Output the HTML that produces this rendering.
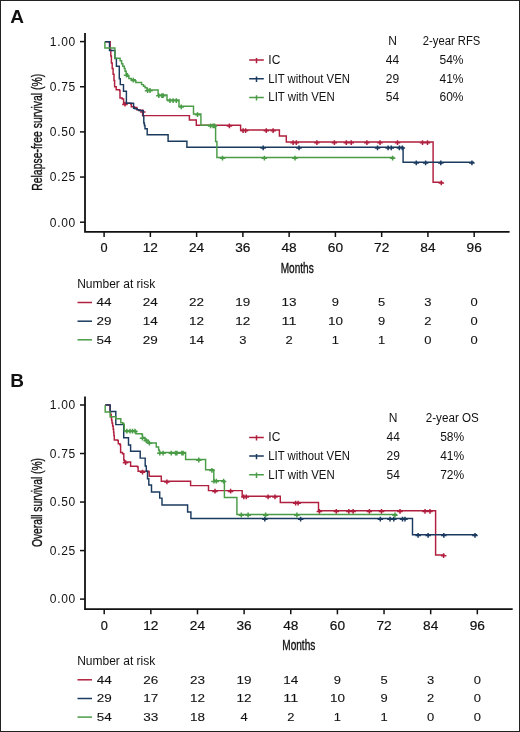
<!DOCTYPE html>
<html><head><meta charset="utf-8"><style>
html,body{margin:0;padding:0;background:#fff;}
body{width:520px;height:732px;overflow:hidden;position:relative;}
.frame{position:absolute;left:0;top:0;width:518px;height:730px;border:1px solid #222;}
svg{position:absolute;left:0;top:0;will-change:transform;}
</style></head><body><div class="frame"></div>
<svg width="520" height="732" viewBox="0 0 520 732" fill="#111">
<text x="10.3" y="23.2" font-size="19" font-weight="bold" font-family="Liberation Sans, sans-serif">A</text>
<path d="M85,33.0 V231.8 H509.6" fill="none" stroke="#111" stroke-width="1.8"/>
<path d="M80,222.20 H85" stroke="#111" stroke-width="1.5"/>
<text x="75.2" y="226.50" font-size="12" text-anchor="end" textLength="25.4" font-family="Liberation Sans, sans-serif">0.00</text>
<path d="M80,177.05 H85" stroke="#111" stroke-width="1.5"/>
<text x="75.2" y="181.35" font-size="12" text-anchor="end" textLength="25.4" font-family="Liberation Sans, sans-serif">0.25</text>
<path d="M80,131.90 H85" stroke="#111" stroke-width="1.5"/>
<text x="75.2" y="136.20" font-size="12" text-anchor="end" textLength="25.4" font-family="Liberation Sans, sans-serif">0.50</text>
<path d="M80,86.75 H85" stroke="#111" stroke-width="1.5"/>
<text x="75.2" y="91.05" font-size="12" text-anchor="end" textLength="25.4" font-family="Liberation Sans, sans-serif">0.75</text>
<path d="M80,41.60 H85" stroke="#111" stroke-width="1.5"/>
<text x="75.2" y="45.90" font-size="12" text-anchor="end" textLength="25.4" font-family="Liberation Sans, sans-serif">1.00</text>
<path d="M104.10,231.8 V237.0" stroke="#111" stroke-width="1.5"/>
<text x="104.10" y="251.90" font-size="12" text-anchor="middle" textLength="7.1" lengthAdjust="spacingAndGlyphs" stroke="#111" stroke-width="0.2" font-family="Liberation Sans, sans-serif">0</text>
<path d="M150.36,231.8 V237.0" stroke="#111" stroke-width="1.5"/>
<text x="150.36" y="251.90" font-size="12" text-anchor="middle" textLength="15.2" lengthAdjust="spacingAndGlyphs" stroke="#111" stroke-width="0.2" font-family="Liberation Sans, sans-serif">12</text>
<path d="M196.62,231.8 V237.0" stroke="#111" stroke-width="1.5"/>
<text x="196.62" y="251.90" font-size="12" text-anchor="middle" textLength="15.2" lengthAdjust="spacingAndGlyphs" stroke="#111" stroke-width="0.2" font-family="Liberation Sans, sans-serif">24</text>
<path d="M242.88,231.8 V237.0" stroke="#111" stroke-width="1.5"/>
<text x="242.88" y="251.90" font-size="12" text-anchor="middle" textLength="15.2" lengthAdjust="spacingAndGlyphs" stroke="#111" stroke-width="0.2" font-family="Liberation Sans, sans-serif">36</text>
<path d="M289.14,231.8 V237.0" stroke="#111" stroke-width="1.5"/>
<text x="289.14" y="251.90" font-size="12" text-anchor="middle" textLength="15.2" lengthAdjust="spacingAndGlyphs" stroke="#111" stroke-width="0.2" font-family="Liberation Sans, sans-serif">48</text>
<path d="M335.40,231.8 V237.0" stroke="#111" stroke-width="1.5"/>
<text x="335.40" y="251.90" font-size="12" text-anchor="middle" textLength="15.2" lengthAdjust="spacingAndGlyphs" stroke="#111" stroke-width="0.2" font-family="Liberation Sans, sans-serif">60</text>
<path d="M381.66,231.8 V237.0" stroke="#111" stroke-width="1.5"/>
<text x="381.66" y="251.90" font-size="12" text-anchor="middle" textLength="15.2" lengthAdjust="spacingAndGlyphs" stroke="#111" stroke-width="0.2" font-family="Liberation Sans, sans-serif">72</text>
<path d="M427.92,231.8 V237.0" stroke="#111" stroke-width="1.5"/>
<text x="427.92" y="251.90" font-size="12" text-anchor="middle" textLength="15.2" lengthAdjust="spacingAndGlyphs" stroke="#111" stroke-width="0.2" font-family="Liberation Sans, sans-serif">84</text>
<path d="M474.18,231.8 V237.0" stroke="#111" stroke-width="1.5"/>
<text x="474.18" y="251.90" font-size="12" text-anchor="middle" textLength="15.2" lengthAdjust="spacingAndGlyphs" stroke="#111" stroke-width="0.2" font-family="Liberation Sans, sans-serif">96</text>
<text transform="translate(297.20,272.8) scale(0.72,1)" font-size="14" text-anchor="middle" stroke="#111" stroke-width="0.35" font-family="Liberation Sans, sans-serif">Months</text>
<text transform="translate(41.6,132.3) rotate(-90) scale(0.745,1)" font-size="14" text-anchor="middle" stroke="#111" stroke-width="0.35" font-family="Liberation Sans, sans-serif">Relapse-free survival (%)</text>
<path d="M104.9,41.8 H109.8 V41.8 H110.2 V49.9 H110.8 V56 H111.4 V63 H112.2 V68.5 H113.1 V74.3 H114 V80.5 H114.6 V86.8 H116.2 V89.8 H119.6 V90.8 H120 V98 H122.2 V99 H123.6 V103.2 H130.8 V104 H131.3 V106.8 H134.4 V107.4 H136.9 V109.7 H140 V110.5 H142.6 V111.3 H142.6 V115.6 H189.4 V120 H196.3 V125.3 H240.6 V130 H279.4 V136 H286.3 V142 H433.1 V182.3 H442.7 V182.3" fill="none" stroke="#b01f3e" stroke-width="1.45" stroke-linejoin="miter"/>
<path d="M122.2,104.4h5.5M125.0,101.8v4.8M140.1,112.1h5.5M142.8,109.5v4.8M226.7,126.1h5.5M229.4,123.5v4.8M240.3,130.8h5.5M243.1,128.2v4.8M242.8,130.8h5.5M245.6,128.2v4.8M263.6,130.8h5.5M266.3,128.2v4.8M270.4,130.8h5.5M273.1,128.2v4.8M290.4,142.8h5.5M293.1,140.2v4.8M293.6,142.8h5.5M296.3,140.2v4.8M314.1,142.8h5.5M316.9,140.2v4.8M331.6,142.8h5.5M334.4,140.2v4.8M343.6,142.8h5.5M346.3,140.2v4.8M348.6,142.8h5.5M351.3,140.2v4.8M364.1,142.8h5.5M366.9,140.2v4.8M377.2,142.8h5.5M380.0,140.2v4.8M394.8,142.8h5.5M397.5,140.2v4.8M419.8,142.8h5.5M422.5,140.2v4.8M424.8,142.8h5.5M427.5,140.2v4.8M438.6,183.1h5.5M441.3,180.5v4.8" fill="none" stroke="#b01f3e" stroke-width="1.5"/>
<path d="M104.9,41.8 H109.5 V50.4 H114.9 V58.5 H116.4 V66.2 H119.3 V78.8 H120.3 V84.6 H123.5 V91.2 H126.4 V103.3 H133.1 V103.5 H133.6 V108.3 H135 V108.8 H137.2 V109.6 H138.8 V110.4 H141.8 V110.8 H143.2 V116.1 H143.8 V123 H144.4 V125.5 H145 V128.8 H147.2 V134.8 H168.1 V141.3 H186.9 V147.3 H403.1 V162.3 H474 V162.3" fill="none" stroke="#1b3a5f" stroke-width="1.45" stroke-linejoin="miter"/>
<path d="M260.4,148.1h5.5M263.2,145.5v4.8M296.2,148.1h5.5M299.0,145.5v4.8M374.8,148.1h5.5M377.5,145.5v4.8M385.4,148.1h5.5M388.1,145.5v4.8M388.6,148.1h5.5M391.3,145.5v4.8M396.6,148.1h5.5M399.4,145.5v4.8M399.6,148.1h5.5M402.3,145.5v4.8M413.6,163.1h5.5M416.3,160.5v4.8M422.9,163.1h5.5M425.6,160.5v4.8M438.1,163.1h5.5M440.8,160.5v4.8M469.1,163.1h5.5M471.9,160.5v4.8" fill="none" stroke="#1b3a5f" stroke-width="1.5"/>
<path d="M104.9,41.8 H104.9 V47.9 H114.9 V58.2 H120.1 V60.8 H121.6 V63.8 H122.8 V66.2 H124.3 V68.5 H125.1 V71.2 H126.2 V73.8 H127.4 V76.2 H128.9 V78.5 H131.2 V79.6 H135.1 V80.8 H135.8 V82.5 H141.6 V84.6 H143.5 V86.2 H145.1 V87.7 H147 V89.9 H158.1 V95 H167 V100 H179 V106.3 H193.5 V114 H200.9 V125.2 H215.6 V141.5 H216.9 V157.5 H394.5 V157.5" fill="none" stroke="#4a9c47" stroke-width="1.45" stroke-linejoin="miter"/>
<path d="M123.8,75.3h5.5M126.5,72.7v4.8M130.6,80.4h5.5M133.3,77.8v4.8M144.8,90.7h5.5M147.6,88.1v4.8M147.2,90.7h5.5M150.0,88.1v4.8M156.1,95.8h5.5M158.8,93.2v4.8M159.2,95.8h5.5M161.9,93.2v4.8M160.3,95.8h5.5M163.1,93.2v4.8M167.2,100.8h5.5M170.0,98.2v4.8M170.3,100.8h5.5M173.1,98.2v4.8M173.6,100.8h5.5M176.3,98.2v4.8M178.6,107.1h5.5M181.3,104.5v4.8M194.8,114.8h5.5M197.5,112.2v4.8M207.8,126.0h5.5M210.6,123.4v4.8M210.3,126.0h5.5M213.1,123.4v4.8M211.7,126.0h5.5M214.4,123.4v4.8M219.8,158.3h5.5M222.5,155.7v4.8M261.6,158.3h5.5M264.4,155.7v4.8M292.2,158.3h5.5M295.0,155.7v4.8M389.9,158.3h5.5M392.6,155.7v4.8" fill="none" stroke="#4a9c47" stroke-width="1.5"/>

<text x="392.5" y="44.6" font-size="12" text-anchor="middle" font-family="Liberation Sans, sans-serif">N</text>
<text x="451.6" y="44.6" font-size="12" text-anchor="middle" textLength="57.5" lengthAdjust="spacingAndGlyphs" font-family="Liberation Sans, sans-serif">2-year RFS</text>
<path d="M249.2,60.1 H263.8 M256.5,57.9 v5.4" fill="none" stroke="#b01f3e" stroke-width="1.5"/>
<text x="268.3" y="64.1" font-size="12" font-family="Liberation Sans, sans-serif">IC</text>
<text x="392.5" y="64.1" font-size="12" text-anchor="middle" font-family="Liberation Sans, sans-serif">44</text>
<text x="451.5" y="64.1" font-size="12" text-anchor="middle" font-family="Liberation Sans, sans-serif">54%</text>
<path d="M249.2,78.8 H263.8 M256.5,76.6 v5.4" fill="none" stroke="#1b3a5f" stroke-width="1.5"/>
<text x="268.3" y="82.8" font-size="12" textLength="81.6" lengthAdjust="spacingAndGlyphs" font-family="Liberation Sans, sans-serif">LIT without VEN</text>
<text x="392.5" y="82.8" font-size="12" text-anchor="middle" font-family="Liberation Sans, sans-serif">29</text>
<text x="451.5" y="82.8" font-size="12" text-anchor="middle" font-family="Liberation Sans, sans-serif">41%</text>
<path d="M249.2,97.4 H263.8 M256.5,95.2 v5.4" fill="none" stroke="#4a9c47" stroke-width="1.5"/>
<text x="268.3" y="101.4" font-size="12" textLength="66.4" lengthAdjust="spacingAndGlyphs" font-family="Liberation Sans, sans-serif">LIT with VEN</text>
<text x="392.5" y="101.4" font-size="12" text-anchor="middle" font-family="Liberation Sans, sans-serif">54</text>
<text x="451.5" y="101.4" font-size="12" text-anchor="middle" font-family="Liberation Sans, sans-serif">60%</text>
<text x="77.2" y="287.8" font-size="12" font-family="Liberation Sans, sans-serif">Number at risk</text>
<path d="M77.5,302.5 H92" stroke="#b01f3e" stroke-width="1.5"/>
<text x="104.10" y="306.4" font-size="11.5" text-anchor="middle" textLength="15.0" lengthAdjust="spacingAndGlyphs" stroke="#111" stroke-width="0.1" font-family="Liberation Sans, sans-serif">44</text>
<text x="150.36" y="306.4" font-size="11.5" text-anchor="middle" textLength="15.0" lengthAdjust="spacingAndGlyphs" stroke="#111" stroke-width="0.1" font-family="Liberation Sans, sans-serif">24</text>
<text x="196.62" y="306.4" font-size="11.5" text-anchor="middle" textLength="15.0" lengthAdjust="spacingAndGlyphs" stroke="#111" stroke-width="0.1" font-family="Liberation Sans, sans-serif">22</text>
<text x="242.88" y="306.4" font-size="11.5" text-anchor="middle" textLength="15.0" lengthAdjust="spacingAndGlyphs" stroke="#111" stroke-width="0.1" font-family="Liberation Sans, sans-serif">19</text>
<text x="289.14" y="306.4" font-size="11.5" text-anchor="middle" textLength="15.0" lengthAdjust="spacingAndGlyphs" stroke="#111" stroke-width="0.1" font-family="Liberation Sans, sans-serif">13</text>
<text x="335.40" y="306.4" font-size="11.5" text-anchor="middle" textLength="7.2" lengthAdjust="spacingAndGlyphs" stroke="#111" stroke-width="0.1" font-family="Liberation Sans, sans-serif">9</text>
<text x="381.66" y="306.4" font-size="11.5" text-anchor="middle" textLength="7.2" lengthAdjust="spacingAndGlyphs" stroke="#111" stroke-width="0.1" font-family="Liberation Sans, sans-serif">5</text>
<text x="427.92" y="306.4" font-size="11.5" text-anchor="middle" textLength="7.2" lengthAdjust="spacingAndGlyphs" stroke="#111" stroke-width="0.1" font-family="Liberation Sans, sans-serif">3</text>
<text x="474.18" y="306.4" font-size="11.5" text-anchor="middle" textLength="7.2" lengthAdjust="spacingAndGlyphs" stroke="#111" stroke-width="0.1" font-family="Liberation Sans, sans-serif">0</text>
<path d="M77.5,321.2 H92" stroke="#1b3a5f" stroke-width="1.5"/>
<text x="104.10" y="325.1" font-size="11.5" text-anchor="middle" textLength="15.0" lengthAdjust="spacingAndGlyphs" stroke="#111" stroke-width="0.1" font-family="Liberation Sans, sans-serif">29</text>
<text x="150.36" y="325.1" font-size="11.5" text-anchor="middle" textLength="15.0" lengthAdjust="spacingAndGlyphs" stroke="#111" stroke-width="0.1" font-family="Liberation Sans, sans-serif">14</text>
<text x="196.62" y="325.1" font-size="11.5" text-anchor="middle" textLength="15.0" lengthAdjust="spacingAndGlyphs" stroke="#111" stroke-width="0.1" font-family="Liberation Sans, sans-serif">12</text>
<text x="242.88" y="325.1" font-size="11.5" text-anchor="middle" textLength="15.0" lengthAdjust="spacingAndGlyphs" stroke="#111" stroke-width="0.1" font-family="Liberation Sans, sans-serif">12</text>
<text x="289.14" y="325.1" font-size="11.5" text-anchor="middle" textLength="15.0" lengthAdjust="spacingAndGlyphs" stroke="#111" stroke-width="0.1" font-family="Liberation Sans, sans-serif">11</text>
<text x="335.40" y="325.1" font-size="11.5" text-anchor="middle" textLength="15.0" lengthAdjust="spacingAndGlyphs" stroke="#111" stroke-width="0.1" font-family="Liberation Sans, sans-serif">10</text>
<text x="381.66" y="325.1" font-size="11.5" text-anchor="middle" textLength="7.2" lengthAdjust="spacingAndGlyphs" stroke="#111" stroke-width="0.1" font-family="Liberation Sans, sans-serif">9</text>
<text x="427.92" y="325.1" font-size="11.5" text-anchor="middle" textLength="7.2" lengthAdjust="spacingAndGlyphs" stroke="#111" stroke-width="0.1" font-family="Liberation Sans, sans-serif">2</text>
<text x="474.18" y="325.1" font-size="11.5" text-anchor="middle" textLength="7.2" lengthAdjust="spacingAndGlyphs" stroke="#111" stroke-width="0.1" font-family="Liberation Sans, sans-serif">0</text>
<path d="M77.5,339.8 H92" stroke="#4a9c47" stroke-width="1.5"/>
<text x="104.10" y="343.7" font-size="11.5" text-anchor="middle" textLength="15.0" lengthAdjust="spacingAndGlyphs" stroke="#111" stroke-width="0.1" font-family="Liberation Sans, sans-serif">54</text>
<text x="150.36" y="343.7" font-size="11.5" text-anchor="middle" textLength="15.0" lengthAdjust="spacingAndGlyphs" stroke="#111" stroke-width="0.1" font-family="Liberation Sans, sans-serif">29</text>
<text x="196.62" y="343.7" font-size="11.5" text-anchor="middle" textLength="15.0" lengthAdjust="spacingAndGlyphs" stroke="#111" stroke-width="0.1" font-family="Liberation Sans, sans-serif">14</text>
<text x="242.88" y="343.7" font-size="11.5" text-anchor="middle" textLength="7.2" lengthAdjust="spacingAndGlyphs" stroke="#111" stroke-width="0.1" font-family="Liberation Sans, sans-serif">3</text>
<text x="289.14" y="343.7" font-size="11.5" text-anchor="middle" textLength="7.2" lengthAdjust="spacingAndGlyphs" stroke="#111" stroke-width="0.1" font-family="Liberation Sans, sans-serif">2</text>
<text x="335.40" y="343.7" font-size="11.5" text-anchor="middle" textLength="7.2" lengthAdjust="spacingAndGlyphs" stroke="#111" stroke-width="0.1" font-family="Liberation Sans, sans-serif">1</text>
<text x="381.66" y="343.7" font-size="11.5" text-anchor="middle" textLength="7.2" lengthAdjust="spacingAndGlyphs" stroke="#111" stroke-width="0.1" font-family="Liberation Sans, sans-serif">1</text>
<text x="427.92" y="343.7" font-size="11.5" text-anchor="middle" textLength="7.2" lengthAdjust="spacingAndGlyphs" stroke="#111" stroke-width="0.1" font-family="Liberation Sans, sans-serif">0</text>
<text x="474.18" y="343.7" font-size="11.5" text-anchor="middle" textLength="7.2" lengthAdjust="spacingAndGlyphs" stroke="#111" stroke-width="0.1" font-family="Liberation Sans, sans-serif">0</text>
<text x="10.3" y="386.7" font-size="19" font-weight="bold" font-family="Liberation Sans, sans-serif">B</text>
<path d="M85,396.5 V609.1 H512.7" fill="none" stroke="#111" stroke-width="1.8"/>
<path d="M80,599.10 H85" stroke="#111" stroke-width="1.5"/>
<text x="75.2" y="603.40" font-size="12" text-anchor="end" textLength="25.4" font-family="Liberation Sans, sans-serif">0.00</text>
<path d="M80,550.58 H85" stroke="#111" stroke-width="1.5"/>
<text x="75.2" y="554.88" font-size="12" text-anchor="end" textLength="25.4" font-family="Liberation Sans, sans-serif">0.25</text>
<path d="M80,502.05 H85" stroke="#111" stroke-width="1.5"/>
<text x="75.2" y="506.35" font-size="12" text-anchor="end" textLength="25.4" font-family="Liberation Sans, sans-serif">0.50</text>
<path d="M80,453.52 H85" stroke="#111" stroke-width="1.5"/>
<text x="75.2" y="457.82" font-size="12" text-anchor="end" textLength="25.4" font-family="Liberation Sans, sans-serif">0.75</text>
<path d="M80,405.00 H85" stroke="#111" stroke-width="1.5"/>
<text x="75.2" y="409.30" font-size="12" text-anchor="end" textLength="25.4" font-family="Liberation Sans, sans-serif">1.00</text>
<path d="M104.20,609.1 V614.3000000000001" stroke="#111" stroke-width="1.5"/>
<text x="104.20" y="630.10" font-size="12" text-anchor="middle" textLength="7.1" lengthAdjust="spacingAndGlyphs" stroke="#111" stroke-width="0.2" font-family="Liberation Sans, sans-serif">0</text>
<path d="M150.84,609.1 V614.3000000000001" stroke="#111" stroke-width="1.5"/>
<text x="150.84" y="630.10" font-size="12" text-anchor="middle" textLength="15.2" lengthAdjust="spacingAndGlyphs" stroke="#111" stroke-width="0.2" font-family="Liberation Sans, sans-serif">12</text>
<path d="M197.48,609.1 V614.3000000000001" stroke="#111" stroke-width="1.5"/>
<text x="197.48" y="630.10" font-size="12" text-anchor="middle" textLength="15.2" lengthAdjust="spacingAndGlyphs" stroke="#111" stroke-width="0.2" font-family="Liberation Sans, sans-serif">24</text>
<path d="M244.12,609.1 V614.3000000000001" stroke="#111" stroke-width="1.5"/>
<text x="244.12" y="630.10" font-size="12" text-anchor="middle" textLength="15.2" lengthAdjust="spacingAndGlyphs" stroke="#111" stroke-width="0.2" font-family="Liberation Sans, sans-serif">36</text>
<path d="M290.76,609.1 V614.3000000000001" stroke="#111" stroke-width="1.5"/>
<text x="290.76" y="630.10" font-size="12" text-anchor="middle" textLength="15.2" lengthAdjust="spacingAndGlyphs" stroke="#111" stroke-width="0.2" font-family="Liberation Sans, sans-serif">48</text>
<path d="M337.40,609.1 V614.3000000000001" stroke="#111" stroke-width="1.5"/>
<text x="337.40" y="630.10" font-size="12" text-anchor="middle" textLength="15.2" lengthAdjust="spacingAndGlyphs" stroke="#111" stroke-width="0.2" font-family="Liberation Sans, sans-serif">60</text>
<path d="M384.04,609.1 V614.3000000000001" stroke="#111" stroke-width="1.5"/>
<text x="384.04" y="630.10" font-size="12" text-anchor="middle" textLength="15.2" lengthAdjust="spacingAndGlyphs" stroke="#111" stroke-width="0.2" font-family="Liberation Sans, sans-serif">72</text>
<path d="M430.68,609.1 V614.3000000000001" stroke="#111" stroke-width="1.5"/>
<text x="430.68" y="630.10" font-size="12" text-anchor="middle" textLength="15.2" lengthAdjust="spacingAndGlyphs" stroke="#111" stroke-width="0.2" font-family="Liberation Sans, sans-serif">84</text>
<path d="M477.32,609.1 V614.3000000000001" stroke="#111" stroke-width="1.5"/>
<text x="477.32" y="630.10" font-size="12" text-anchor="middle" textLength="15.2" lengthAdjust="spacingAndGlyphs" stroke="#111" stroke-width="0.2" font-family="Liberation Sans, sans-serif">96</text>
<text transform="translate(298.75,650.1) scale(0.72,1)" font-size="14" text-anchor="middle" stroke="#111" stroke-width="0.35" font-family="Liberation Sans, sans-serif">Months</text>
<text transform="translate(41.6,502.5) rotate(-90) scale(0.735,1)" font-size="14" text-anchor="middle" stroke="#111" stroke-width="0.35" font-family="Liberation Sans, sans-serif">Overall survival (%)</text>
<path d="M105.2,405 H109.8 V405 H110.1 V411.9 H110.7 V414.8 H111.2 V417.7 H111.6 V420.3 H112 V423 H112.6 V426 H113.2 V429.2 H113.6 V432.3 H113.9 V435.4 H114.3 V440 H117.8 V440.6 H118.3 V443.8 H120 V445 H120.6 V452.5 H122.5 V453.8 H123.8 V460 H124.4 V461.9 H130 V461.9 H130.6 V466.3 H137.5 V466.9 H138.1 V471.3 H148.8 V471.9 H149.2 V476.3 H161.3 V481.3 H190.6 V485.6 H208.5 V490.6 H242.2 V496.2 H280.3 V502.5 H318.5 V510.8 H435.6 V555 H444.7 V555" fill="none" stroke="#b01f3e" stroke-width="1.45" stroke-linejoin="miter"/>
<path d="M122.8,462.8h5.5M125.6,460.2v4.8M139.8,472.3h5.5M142.5,469.7v4.8M164.2,482.1h5.5M166.9,479.5v4.8M212.2,491.4h5.5M215.0,488.8v4.8M227.8,491.4h5.5M230.6,488.8v4.8M241.1,497.0h5.5M243.8,494.4v4.8M243.6,497.0h5.5M246.3,494.4v4.8M265.4,497.0h5.5M268.1,494.4v4.8M272.2,497.0h5.5M275.0,494.4v4.8M292.9,503.3h5.5M295.6,500.7v4.8M295.4,503.3h5.5M298.1,500.7v4.8M316.6,511.6h5.5M319.4,509.0v4.8M333.6,511.6h5.5M336.3,509.0v4.8M346.1,511.6h5.5M348.8,509.0v4.8M350.4,511.6h5.5M353.1,509.0v4.8M366.6,511.6h5.5M369.4,509.0v4.8M378.8,511.6h5.5M381.5,509.0v4.8M397.2,511.6h5.5M400.0,509.0v4.8M422.2,511.6h5.5M425.0,509.0v4.8M427.2,511.6h5.5M430.0,509.0v4.8M440.9,555.8h5.5M443.6,553.2v4.8" fill="none" stroke="#b01f3e" stroke-width="1.5"/>
<path d="M105.2,405 H110.1 V411.5 H115.8 V424.6 H123.7 V437.7 H128.5 V445 H130.6 V451.3 H140.2 V458.1 H145.2 V466 H146.3 V471.3 H147.5 V478.8 H148.8 V485 H151.5 V492 H159.7 V498.1 H162 V505 H187.6 V512 H190.9 V518.5 H412.5 V534.8 H477 V534.8" fill="none" stroke="#1b3a5f" stroke-width="1.45" stroke-linejoin="miter"/>
<path d="M262.1,519.3h5.5M264.8,516.7v4.8M297.9,519.3h5.5M300.6,516.7v4.8M377.6,519.3h5.5M380.3,516.7v4.8M387.2,519.3h5.5M390.0,516.7v4.8M391.1,519.3h5.5M393.8,516.7v4.8M399.8,519.3h5.5M402.5,516.7v4.8M402.2,519.3h5.5M405.0,516.7v4.8M415.4,535.6h5.5M418.1,533.0v4.8M425.4,535.6h5.5M428.1,533.0v4.8M441.1,535.6h5.5M443.8,533.0v4.8M472.2,535.6h5.5M475.0,533.0v4.8" fill="none" stroke="#1b3a5f" stroke-width="1.5"/>
<path d="M105.2,405 H105.2 V411.9 H110.1 V416.7 H115.8 V418.7 H120.8 V422.7 H122.8 V423.4 H123.9 V424.8 H124.3 V430.8 H135.9 V433.8 H141.9 V434.4 H142.5 V437.5 H145 V440 H148 V443 H156.3 V447 H158.6 V450 H159.4 V452.5 H185.6 V459.4 H205.6 V469.8 H213.8 V480.6 H224.4 V497.5 H236.9 V514.4 H397 V514.4" fill="none" stroke="#4a9c47" stroke-width="1.45" stroke-linejoin="miter"/>
<path d="M124.2,431.4h5.5M126.9,428.8v4.8M127.2,431.4h5.5M130.0,428.8v4.8M129.8,431.4h5.5M132.5,428.8v4.8M132.2,431.4h5.5M135.0,428.8v4.8M139.8,438.3h5.5M142.5,435.7v4.8M143.6,440.8h5.5M146.3,438.2v4.8M146.7,443.3h5.5M149.4,440.7v4.8M157.1,453.3h5.5M159.8,450.7v4.8M160.3,453.3h5.5M163.1,450.7v4.8M168.6,453.3h5.5M171.3,450.7v4.8M172.8,453.3h5.5M175.6,450.7v4.8M174.2,453.3h5.5M176.9,450.7v4.8M179.2,453.3h5.5M181.9,450.7v4.8M180.3,453.3h5.5M183.1,450.7v4.8M196.1,460.2h5.5M198.8,457.6v4.8M209.2,470.6h5.5M211.9,468.0v4.8M211.2,481.4h5.5M214.0,478.8v4.8M213.6,481.4h5.5M216.3,478.8v4.8M220.8,481.4h5.5M223.6,478.8v4.8M238.6,515.2h5.5M241.3,512.6v4.8M245.3,515.2h5.5M248.1,512.6v4.8M262.9,515.2h5.5M265.6,512.6v4.8M294.1,515.2h5.5M296.9,512.6v4.8M392.2,515.2h5.5M395.0,512.6v4.8" fill="none" stroke="#4a9c47" stroke-width="1.5"/>

<text x="393.2" y="421.9" font-size="12" text-anchor="middle" font-family="Liberation Sans, sans-serif">N</text>
<text x="452.3" y="421.9" font-size="12" text-anchor="middle" textLength="53.1" lengthAdjust="spacingAndGlyphs" font-family="Liberation Sans, sans-serif">2-year OS</text>
<path d="M249.2,437.4 H263.8 M256.5,435.2 v5.4" fill="none" stroke="#b01f3e" stroke-width="1.5"/>
<text x="268.3" y="441.4" font-size="12" font-family="Liberation Sans, sans-serif">IC</text>
<text x="393.2" y="441.4" font-size="12" text-anchor="middle" font-family="Liberation Sans, sans-serif">44</text>
<text x="452.2" y="441.4" font-size="12" text-anchor="middle" font-family="Liberation Sans, sans-serif">58%</text>
<path d="M249.2,456.1 H263.8 M256.5,453.9 v5.4" fill="none" stroke="#1b3a5f" stroke-width="1.5"/>
<text x="268.3" y="460.1" font-size="12" textLength="81.6" lengthAdjust="spacingAndGlyphs" font-family="Liberation Sans, sans-serif">LIT without VEN</text>
<text x="393.2" y="460.1" font-size="12" text-anchor="middle" font-family="Liberation Sans, sans-serif">29</text>
<text x="452.2" y="460.1" font-size="12" text-anchor="middle" font-family="Liberation Sans, sans-serif">41%</text>
<path d="M249.2,474.7 H263.8 M256.5,472.5 v5.4" fill="none" stroke="#4a9c47" stroke-width="1.5"/>
<text x="268.3" y="478.7" font-size="12" textLength="66.4" lengthAdjust="spacingAndGlyphs" font-family="Liberation Sans, sans-serif">LIT with VEN</text>
<text x="393.2" y="478.7" font-size="12" text-anchor="middle" font-family="Liberation Sans, sans-serif">54</text>
<text x="452.2" y="478.7" font-size="12" text-anchor="middle" font-family="Liberation Sans, sans-serif">72%</text>
<text x="77.2" y="665.1" font-size="12" font-family="Liberation Sans, sans-serif">Number at risk</text>
<path d="M77.5,679.8 H92" stroke="#b01f3e" stroke-width="1.5"/>
<text x="104.20" y="683.7" font-size="11.5" text-anchor="middle" textLength="15.0" lengthAdjust="spacingAndGlyphs" stroke="#111" stroke-width="0.1" font-family="Liberation Sans, sans-serif">44</text>
<text x="150.84" y="683.7" font-size="11.5" text-anchor="middle" textLength="15.0" lengthAdjust="spacingAndGlyphs" stroke="#111" stroke-width="0.1" font-family="Liberation Sans, sans-serif">26</text>
<text x="197.48" y="683.7" font-size="11.5" text-anchor="middle" textLength="15.0" lengthAdjust="spacingAndGlyphs" stroke="#111" stroke-width="0.1" font-family="Liberation Sans, sans-serif">23</text>
<text x="244.12" y="683.7" font-size="11.5" text-anchor="middle" textLength="15.0" lengthAdjust="spacingAndGlyphs" stroke="#111" stroke-width="0.1" font-family="Liberation Sans, sans-serif">19</text>
<text x="290.76" y="683.7" font-size="11.5" text-anchor="middle" textLength="15.0" lengthAdjust="spacingAndGlyphs" stroke="#111" stroke-width="0.1" font-family="Liberation Sans, sans-serif">14</text>
<text x="337.40" y="683.7" font-size="11.5" text-anchor="middle" textLength="7.2" lengthAdjust="spacingAndGlyphs" stroke="#111" stroke-width="0.1" font-family="Liberation Sans, sans-serif">9</text>
<text x="384.04" y="683.7" font-size="11.5" text-anchor="middle" textLength="7.2" lengthAdjust="spacingAndGlyphs" stroke="#111" stroke-width="0.1" font-family="Liberation Sans, sans-serif">5</text>
<text x="430.68" y="683.7" font-size="11.5" text-anchor="middle" textLength="7.2" lengthAdjust="spacingAndGlyphs" stroke="#111" stroke-width="0.1" font-family="Liberation Sans, sans-serif">3</text>
<text x="477.32" y="683.7" font-size="11.5" text-anchor="middle" textLength="7.2" lengthAdjust="spacingAndGlyphs" stroke="#111" stroke-width="0.1" font-family="Liberation Sans, sans-serif">0</text>
<path d="M77.5,698.5 H92" stroke="#1b3a5f" stroke-width="1.5"/>
<text x="104.20" y="702.4" font-size="11.5" text-anchor="middle" textLength="15.0" lengthAdjust="spacingAndGlyphs" stroke="#111" stroke-width="0.1" font-family="Liberation Sans, sans-serif">29</text>
<text x="150.84" y="702.4" font-size="11.5" text-anchor="middle" textLength="15.0" lengthAdjust="spacingAndGlyphs" stroke="#111" stroke-width="0.1" font-family="Liberation Sans, sans-serif">17</text>
<text x="197.48" y="702.4" font-size="11.5" text-anchor="middle" textLength="15.0" lengthAdjust="spacingAndGlyphs" stroke="#111" stroke-width="0.1" font-family="Liberation Sans, sans-serif">12</text>
<text x="244.12" y="702.4" font-size="11.5" text-anchor="middle" textLength="15.0" lengthAdjust="spacingAndGlyphs" stroke="#111" stroke-width="0.1" font-family="Liberation Sans, sans-serif">12</text>
<text x="290.76" y="702.4" font-size="11.5" text-anchor="middle" textLength="15.0" lengthAdjust="spacingAndGlyphs" stroke="#111" stroke-width="0.1" font-family="Liberation Sans, sans-serif">11</text>
<text x="337.40" y="702.4" font-size="11.5" text-anchor="middle" textLength="15.0" lengthAdjust="spacingAndGlyphs" stroke="#111" stroke-width="0.1" font-family="Liberation Sans, sans-serif">10</text>
<text x="384.04" y="702.4" font-size="11.5" text-anchor="middle" textLength="7.2" lengthAdjust="spacingAndGlyphs" stroke="#111" stroke-width="0.1" font-family="Liberation Sans, sans-serif">9</text>
<text x="430.68" y="702.4" font-size="11.5" text-anchor="middle" textLength="7.2" lengthAdjust="spacingAndGlyphs" stroke="#111" stroke-width="0.1" font-family="Liberation Sans, sans-serif">2</text>
<text x="477.32" y="702.4" font-size="11.5" text-anchor="middle" textLength="7.2" lengthAdjust="spacingAndGlyphs" stroke="#111" stroke-width="0.1" font-family="Liberation Sans, sans-serif">0</text>
<path d="M77.5,717.1 H92" stroke="#4a9c47" stroke-width="1.5"/>
<text x="104.20" y="721.0" font-size="11.5" text-anchor="middle" textLength="15.0" lengthAdjust="spacingAndGlyphs" stroke="#111" stroke-width="0.1" font-family="Liberation Sans, sans-serif">54</text>
<text x="150.84" y="721.0" font-size="11.5" text-anchor="middle" textLength="15.0" lengthAdjust="spacingAndGlyphs" stroke="#111" stroke-width="0.1" font-family="Liberation Sans, sans-serif">33</text>
<text x="197.48" y="721.0" font-size="11.5" text-anchor="middle" textLength="15.0" lengthAdjust="spacingAndGlyphs" stroke="#111" stroke-width="0.1" font-family="Liberation Sans, sans-serif">18</text>
<text x="244.12" y="721.0" font-size="11.5" text-anchor="middle" textLength="7.2" lengthAdjust="spacingAndGlyphs" stroke="#111" stroke-width="0.1" font-family="Liberation Sans, sans-serif">4</text>
<text x="290.76" y="721.0" font-size="11.5" text-anchor="middle" textLength="7.2" lengthAdjust="spacingAndGlyphs" stroke="#111" stroke-width="0.1" font-family="Liberation Sans, sans-serif">2</text>
<text x="337.40" y="721.0" font-size="11.5" text-anchor="middle" textLength="7.2" lengthAdjust="spacingAndGlyphs" stroke="#111" stroke-width="0.1" font-family="Liberation Sans, sans-serif">1</text>
<text x="384.04" y="721.0" font-size="11.5" text-anchor="middle" textLength="7.2" lengthAdjust="spacingAndGlyphs" stroke="#111" stroke-width="0.1" font-family="Liberation Sans, sans-serif">1</text>
<text x="430.68" y="721.0" font-size="11.5" text-anchor="middle" textLength="7.2" lengthAdjust="spacingAndGlyphs" stroke="#111" stroke-width="0.1" font-family="Liberation Sans, sans-serif">0</text>
<text x="477.32" y="721.0" font-size="11.5" text-anchor="middle" textLength="7.2" lengthAdjust="spacingAndGlyphs" stroke="#111" stroke-width="0.1" font-family="Liberation Sans, sans-serif">0</text>
</svg></body></html>
